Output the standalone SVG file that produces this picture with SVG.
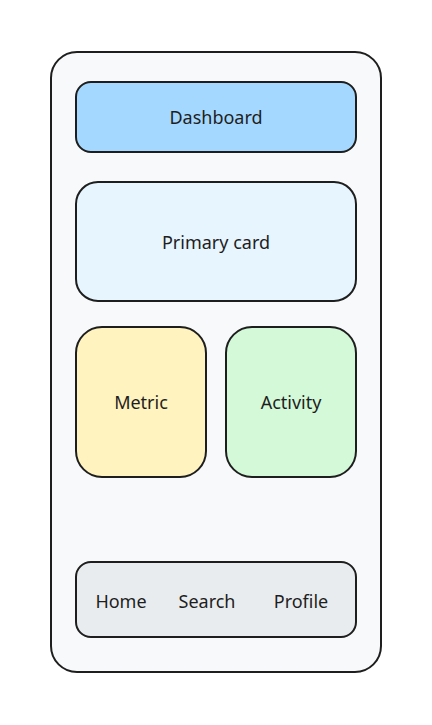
<svg xmlns="http://www.w3.org/2000/svg" width="432" height="725" viewBox="0 0 432 725">
<style>
.box{stroke:#1e1e1e;stroke-width:2;stroke-linejoin:round}
.lbl{font-family:"Noto Sans","Liberation Sans",sans-serif;font-size:18px;fill:#1e1e1e;text-anchor:middle;dominant-baseline:central}
</style>
<rect width="432" height="725" fill="#ffffff"/>
<g id="phone"><rect class="box" x="51" y="52" width="330" height="620" rx="26" fill="#f8f9fa"/></g>
<g id="header"><rect class="box" x="76" y="82" width="280" height="70" rx="15" fill="#a5d8ff"/><text class="lbl" x="216" y="117">Dashboard</text></g>
<g id="primary"><rect class="box" x="76" y="182" width="280" height="119" rx="22" fill="#e7f5ff"/><text class="lbl" x="216" y="242">Primary card</text></g>
<g id="metric"><rect class="box" x="76" y="327" width="130" height="150" rx="26" fill="#fff3bf"/><text class="lbl" x="141" y="402">Metric</text></g>
<g id="activity"><rect class="box" x="226" y="327" width="130" height="150" rx="26" fill="#d3f9d8"/><text class="lbl" x="291" y="402">Activity</text></g>
<g id="nav"><rect class="box" x="76" y="562" width="280" height="75" rx="15" fill="#e9ecef"/><text class="lbl" x="121" y="601">Home</text><text class="lbl" x="207" y="601">Search</text><text class="lbl" x="301" y="601">Profile</text></g>
<g id="connectors"/>
</svg>
